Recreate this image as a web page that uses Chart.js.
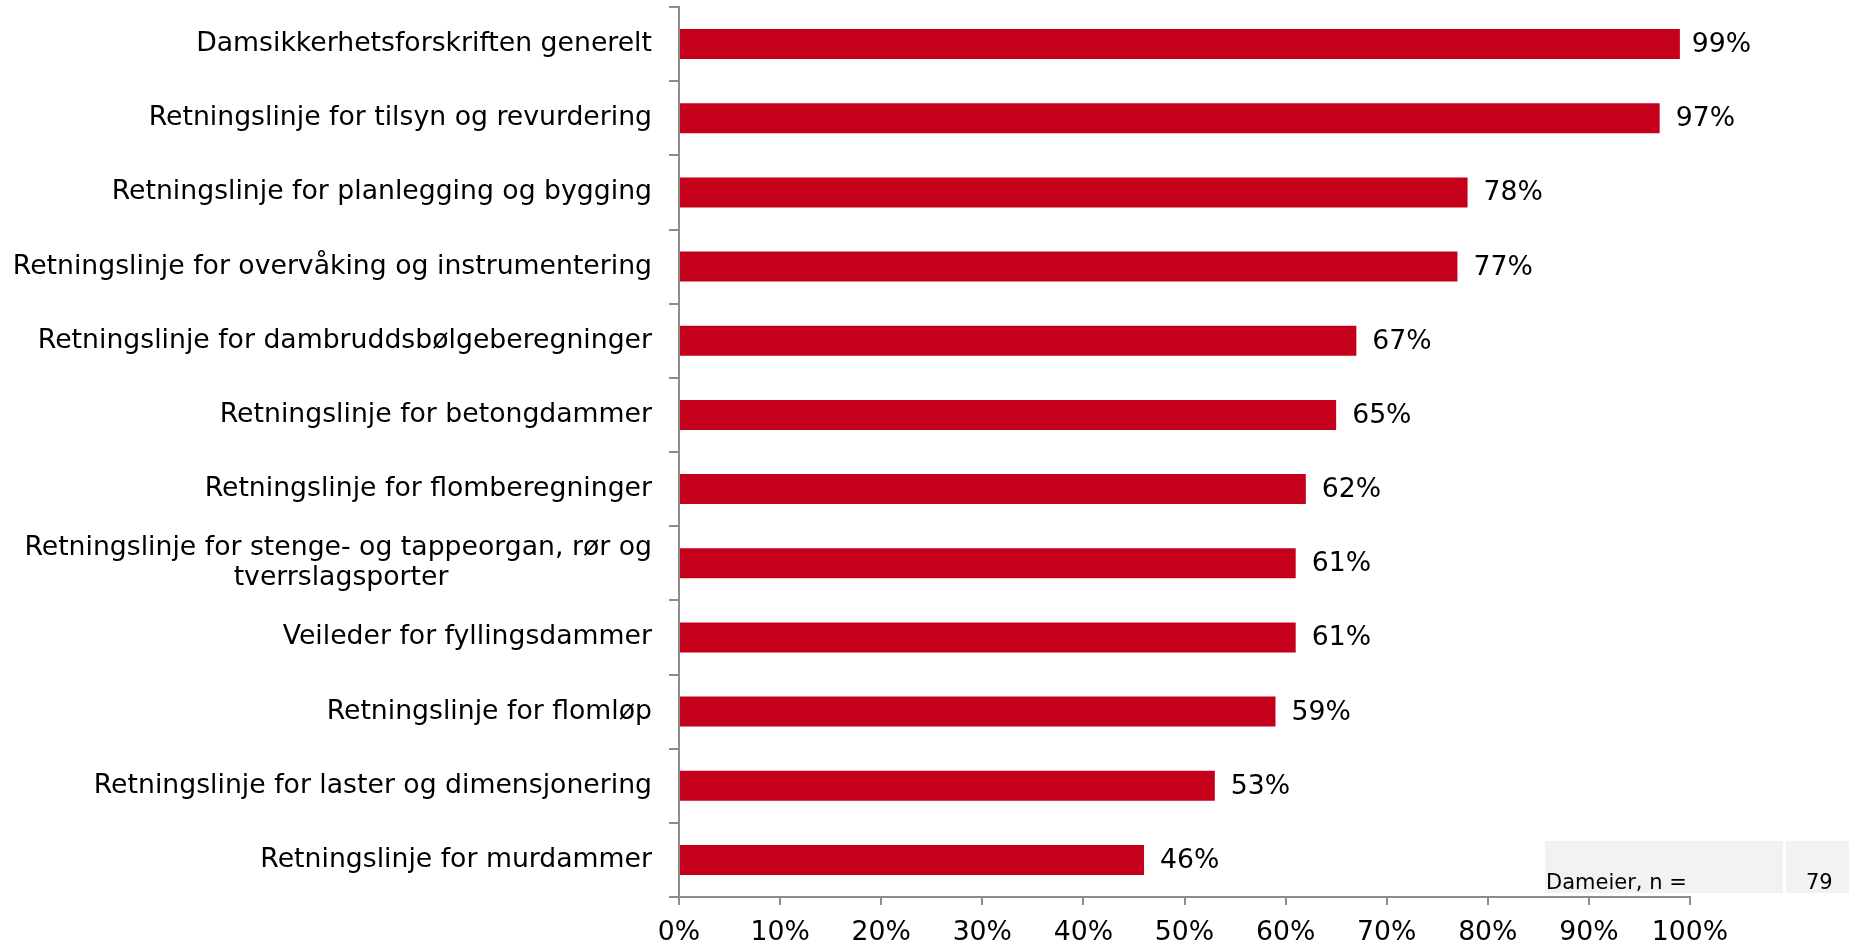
<!DOCTYPE html>
<html>
<head>
<meta charset="utf-8">
<script src="https://cdn.jsdelivr.net/npm/chart.js@4"></script>
<style>
  html, body { margin: 0; padding: 0; background: #fff; }
  #wrap { position: relative; width: 1849px; height: 946px; }
  .cell { position: absolute; background: #f2f2f2; font-family: "DejaVu Sans", Verdana, sans-serif; font-size: 21px; color: #000; }
</style>
</head>
<body>
<div id="wrap">
  <canvas id="barChart" width="1849" height="946"></canvas>
  <div class="cell" style="left:1545px; top:841px; width:238px; height:52px;">
    <span style="position:absolute; left:1px; bottom:-1px;">Dameier, n =</span>
  </div>
  <div class="cell" style="left:1786px; top:841px; width:63px; height:52px;">
    <span style="position:absolute; left:20px; bottom:-1px;">79</span>
  </div>
</div>
<script>
// categories and shares (percent of respondents)
const categories = [
  "Damsikkerhetsforskriften generelt",
  "Retningslinje for tilsyn og revurdering",
  "Retningslinje for planlegging og bygging",
  "Retningslinje for overvåking og instrumentering",
  "Retningslinje for dambruddsbølgeberegninger",
  "Retningslinje for betongdammer",
  "Retningslinje for flomberegninger",
  ["Retningslinje for stenge- og tappeorgan, rør og", "tverrslagsporter"],
  "Veileder for fyllingsdammer",
  "Retningslinje for flomløp",
  "Retningslinje for laster og dimensjonering",
  "Retningslinje for murdammer"
];
const shares = [99, 97, 78, 77, 67, 65, 62, 61, 61, 59, 53, 46];
const xTicks = [0, 10, 20, 30, 40, 50, 60, 70, 80, 90, 100];

const FONT = "'DejaVu Sans', Verdana, sans-serif";
const FSIZE = 26.7;
const axisGrey = "#8c8c8c";

// pad wrapped lines with trailing spaces so they look centred under the first line
const measurer = document.createElement("canvas").getContext("2d");
measurer.font = FSIZE + "px " + FONT;
function centreLines(label) {
  if (!Array.isArray(label)) return label;
  const widest = Math.max(...label.map(l => measurer.measureText(l).width));
  const sp = measurer.measureText("\u00A0").width;
  return label.map(l => {
    const n = Math.round((widest - measurer.measureText(l).width) / 2 / sp);
    return l + "\u00A0".repeat(n);
  });
}

// draws "99%" etc. right of each bar, kept inside the right margin
const valueLabels = {
  id: "valueLabels",
  afterDatasetsDraw(chart) {
    const c = chart.ctx;
    const meta = chart.getDatasetMeta(0);
    const maxRight = chart.chartArea.right + 61;
    c.save();
    c.font = FSIZE + "px " + FONT;
    c.fillStyle = "#000";
    c.textBaseline = "middle";
    c.textAlign = "left";
    meta.data.forEach((bar, i) => {
      const txt = shares[i] + "%";
      const w = c.measureText(txt).width;
      const x = Math.min(bar.x + 16, maxRight - w);
      c.fillText(txt, x, bar.y + 1);
    });
    c.restore();
  }
};

new Chart(document.getElementById("barChart").getContext("2d"), {
  type: "bar",
  data: {
    labels: categories,
    datasets: [{
      data: shares,
      backgroundColor: "#c5001a",
      barPercentage: 0.81,
      categoryPercentage: 0.5
    }]
  },
  options: {
    indexAxis: "y",
    responsive: false,
    animation: false,
    layout: { padding: { top: 7, right: 159, left: 0, bottom: 0 } },
    plugins: { legend: { display: false }, tooltip: { enabled: false } },
    scales: {
      x: {
        min: 0,
        max: 100,
        afterBuildTicks: (axis) => { axis.ticks = xTicks.map(v => ({ value: v })); },
        afterFit: (axis) => { axis.height = 49; axis.paddingLeft = 0; axis.paddingRight = 0; },
        border: { color: axisGrey, width: 2 },
        grid: { drawOnChartArea: false, tickLength: 8, color: axisGrey, lineWidth: 2 },
        ticks: {
          padding: 12,
          color: "#000",
          font: { family: FONT, size: FSIZE },
          callback: (v) => v + "%"
        }
      },
      y: {
        afterFit: (axis) => { axis.width = 679; axis.paddingTop = 0; axis.paddingBottom = 0; },
        border: { color: axisGrey, width: 2 },
        grid: { offset: true, drawOnChartArea: false, tickLength: 10, color: axisGrey, lineWidth: 2 },
        ticks: {
          padding: 17,
          color: "#000",
          font: { family: FONT, size: FSIZE, lineHeight: 1.1 },
          callback: (v, i) => centreLines(categories[i])
        }
      }
    }
  },
  plugins: [valueLabels]
});
</script>
</body>
</html>
